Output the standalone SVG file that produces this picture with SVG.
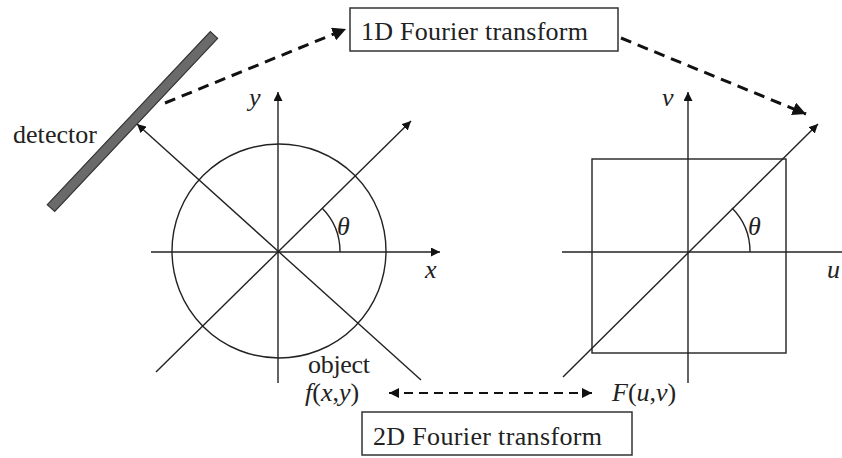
<svg xmlns="http://www.w3.org/2000/svg" width="842" height="458" viewBox="0 0 842 458">
<style>
.ln{stroke:#222;stroke-width:1.4;fill:none}
.dash{stroke:#111;stroke-width:3;fill:none;stroke-dasharray:11 7}
.dash2{stroke:#111;stroke-width:2;fill:none;stroke-dasharray:9 6}
.box{fill:#fff;stroke:#333;stroke-width:1.5}
.t{font-family:"Liberation Serif",serif;font-size:26px;fill:#222}
.i{font-style:italic}
</style>
<defs>
<marker id="a" viewBox="0 0 10 10" refX="10" refY="5" markerWidth="9" markerHeight="9" markerUnits="userSpaceOnUse" orient="auto"><path d="M0,0 L10,5 L0,10 z" fill="#111"/></marker>
<marker id="ad" viewBox="0 0 10 10" refX="10" refY="5" markerWidth="4.5" markerHeight="4.5" orient="auto"><path d="M0,0 L10,5 L0,10 z" fill="#111"/></marker>
<marker id="ab" viewBox="0 0 10 10" refX="10" refY="5" markerWidth="5" markerHeight="5" orient="auto-start-reverse"><path d="M0,0 L10,5 L0,10 z" fill="#111"/></marker>
</defs>

<g id="object-space">
<circle class="ln" cx="279" cy="251" r="107"/>
<line class="ln" x1="151" y1="252" x2="440" y2="252" marker-end="url(#a)"/>
<line class="ln" x1="278" y1="383" x2="278" y2="92" marker-end="url(#a)"/>
<line class="ln" x1="156" y1="372" x2="411" y2="121" marker-end="url(#a)"/>
<line class="ln" x1="421" y1="380" x2="137" y2="124" marker-end="url(#a)"/>
<path class="ln" d="M340,252 A62,62 0 0 0 322,208"/>
<text class="t i" x="337" y="235">θ</text>
<text class="t i" x="249" y="106">y</text>
<text class="t i" x="425" y="278">x</text>
<text class="t" x="308" y="373" textLength="62">object</text>
<text class="t" x="305" y="401"><tspan class="i">f</tspan>(<tspan class="i">x</tspan>,<tspan class="i">y</tspan>)</text>
</g>

<g id="detector">
<polygon points="217.7,38.4 210.3,31.6 47.3,204.6 54.7,211.4" fill="#6a6a6a" stroke="#333" stroke-width="1.2"/>
<text class="t" x="13" y="143" textLength="84">detector</text>
</g>

<g id="frequency-space">
<rect class="ln" x="592" y="159" width="194" height="194"/>
<line class="ln" x1="562" y1="252" x2="850" y2="252"/>
<line class="ln" x1="688" y1="383" x2="688" y2="92" marker-end="url(#a)"/>
<line class="ln" x1="563" y1="377" x2="818" y2="124" marker-end="url(#a)"/>
<path class="ln" d="M750,252 A62,62 0 0 0 732,208"/>
<text class="t i" x="748" y="235">θ</text>
<text class="t i" x="662" y="106">v</text>
<text class="t i" x="827" y="278">u</text>
<text class="t" x="612" y="401"><tspan class="i">F</tspan>(<tspan class="i">u</tspan>,<tspan class="i">v</tspan>)</text>
</g>

<g id="box-1d">
<rect class="box" x="350" y="8" width="268" height="43"/>
<text class="t" x="361" y="40" textLength="227">1D Fourier transform</text>
</g>

<g id="box-2d">
<rect class="box" x="362" y="412" width="270" height="43"/>
<text class="t" x="373" y="445" textLength="229">2D Fourier transform</text>
</g>

<g id="connectors">
<line class="dash" x1="165" y1="103" x2="346" y2="29" marker-end="url(#ad)"/>
<line class="dash" x1="621" y1="38" x2="806" y2="114" marker-end="url(#ad)"/>
<line class="dash2" x1="389" y1="393" x2="592" y2="393" marker-start="url(#ab)" marker-end="url(#ab)"/>
</g>
</svg>
